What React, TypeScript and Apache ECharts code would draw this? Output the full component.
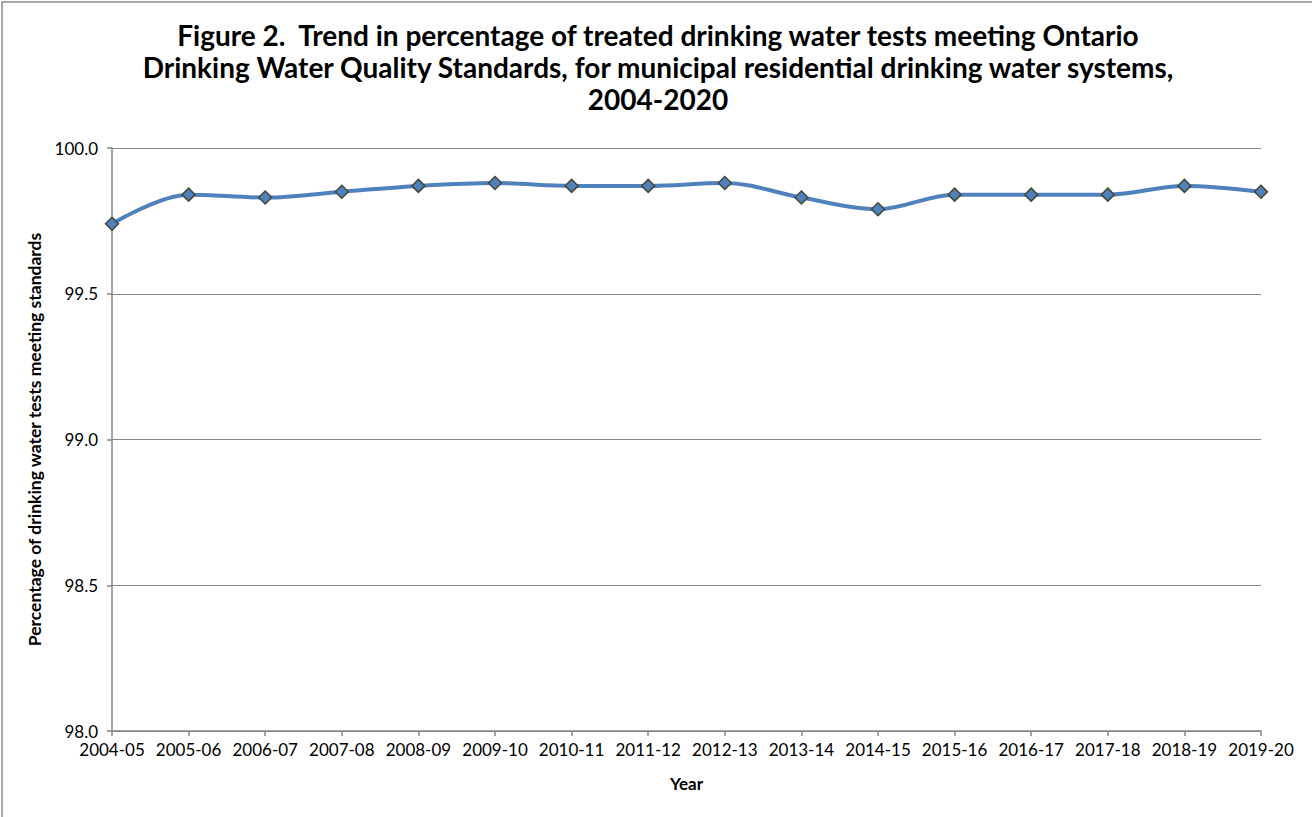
import React, { useEffect, useRef } from "react";
import * as echarts from "echarts";

const years = [
  "2004-05", "2005-06", "2006-07", "2007-08", "2008-09", "2009-10", "2010-11", "2011-12",
  "2012-13", "2013-14", "2014-15", "2015-16", "2016-17", "2017-18", "2018-19", "2019-20",
];
const percentMeeting = [
  99.74, 99.84, 99.83, 99.85, 99.87, 99.88, 99.87, 99.87,
  99.88, 99.83, 99.79, 99.84, 99.84, 99.84, 99.87, 99.85,
];
const yTicks = { min: 98.0, max: 100.0, step: 0.5 };
const titleLines = [
  "Figure 2.  Trend in percentage of treated drinking water tests meeting Ontario",
  "Drinking Water Quality Standards, for municipal residential drinking water systems,",
  "2004-2020",
];

const FONT = "Lato, 'Open Sans', sans-serif";

export default function App() {
  const ref = useRef<HTMLDivElement>(null);

  useEffect(() => {
    if (!ref.current) return;
    const chart = echarts.init(ref.current, undefined, { renderer: "svg" });
    chart.setOption({
      animation: false,
      backgroundColor: "#ffffff",
      textStyle: { fontFamily: FONT },
      graphic: [
        {
          type: "rect",
          shape: { x: 2, y: 2, width: 1400, height: 900 },
          style: { fill: "none", stroke: "#8c8c8c", lineWidth: 1.5 },
          silent: true,
        },
        {
          type: "text",
          x: 658,
          y: 19,
          silent: true,
          style: {
            text: titleLines.join("\n"),
            fontFamily: FONT,
            fontSize: 28,
            fontWeight: "bold",
            fill: "#000000",
            lineHeight: 32,
            align: "center",
            verticalAlign: "top",
          },
        },
      ],
      grid: { left: 112, right: 51, top: 148, bottom: 86 },
      xAxis: {
        type: "category",
        data: years,
        boundaryGap: false,
        name: "Year",
        nameLocation: "middle",
        nameGap: 44,
        nameTextStyle: { fontFamily: FONT, fontSize: 17, fontWeight: "bold", color: "#000" },
        axisLine: { lineStyle: { color: "#868686", width: 1.5 } },
        axisTick: { show: true, alignWithLabel: true, length: 5, lineStyle: { color: "#868686", width: 1.5 } },
        axisLabel: { fontFamily: FONT, fontSize: 17, color: "#000", margin: 10, interval: 0 },
        splitLine: { show: false },
      },
      yAxis: {
        type: "value",
        min: yTicks.min,
        max: yTicks.max,
        interval: yTicks.step,
        name: "Percentage of drinking water tests meeting standards",
        nameLocation: "middle",
        nameRotate: 90,
        nameGap: 67,
        nameTextStyle: { fontFamily: FONT, fontSize: 17.5, fontWeight: "bold", color: "#000" },
        axisLine: { show: true, lineStyle: { color: "#868686", width: 1.5 } },
        axisTick: { show: true, length: 5, lineStyle: { color: "#868686", width: 1.5 } },
        axisLabel: {
          fontFamily: FONT,
          fontSize: 17,
          color: "#000",
          margin: 14,
          formatter: (v: number) => v.toFixed(1),
        },
        splitLine: { show: true, lineStyle: { color: "#868686", width: 1.2 } },
      },
      series: [
        {
          type: "line",
          data: percentMeeting,
          smooth: 0.35,
          lineStyle: { color: "#4F81BD", width: 4 },
          itemStyle: { color: "#4F81BD", borderColor: "#474735", borderWidth: 1.5 },
          symbol: "diamond",
          symbolSize: 13,
          showSymbol: true,
        },
      ],
    });
    return () => chart.dispose();
  }, []);

  return (
    <div
      ref={ref}
      style={{ position: "fixed", left: 0, top: 0, width: 1312, height: 817 }}
    />
  );
}
